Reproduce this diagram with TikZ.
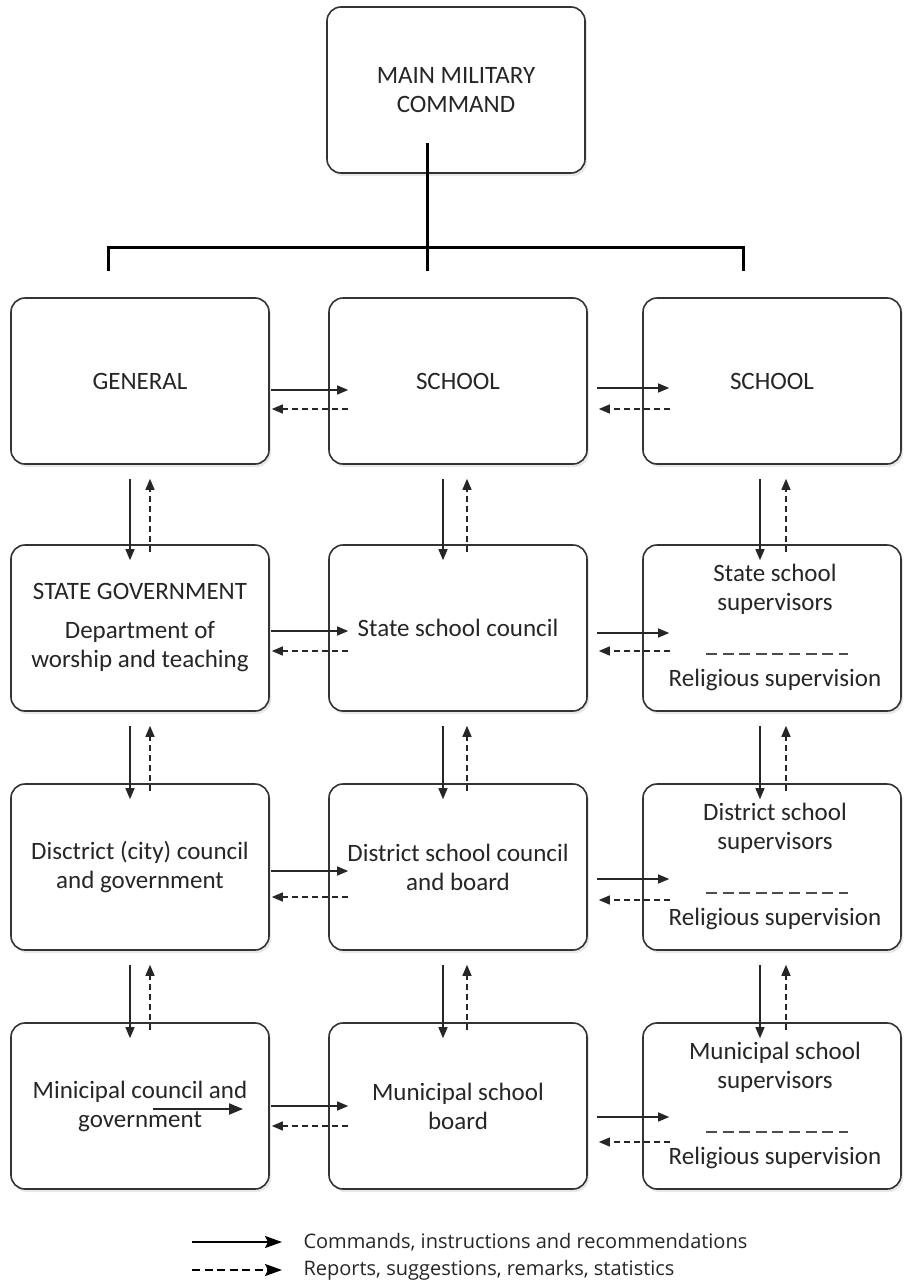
\documentclass[tikz,border=0pt]{standalone}
\usepackage{fontspec}
\setmainfont{Carlito}
\newfontfamily\legendfont{Open Sans}
\usetikzlibrary{positioning,calc,shadows,arrows.meta}
\tikzset{
  unit/.style={draw=black!80, line width=1.6pt, rounded corners=14pt, fill=white,
    minimum width=258pt, minimum height=166pt,
    drop shadow={shadow xshift=2pt, shadow yshift=-3pt, opacity=0.18},
    font=\fontsize{25}{29}\selectfont, text=black!85, align=center},
  lbl/.style={font=\fontsize{25}{29}\selectfont, text=black!85, align=center},
  cmd/.style={line width=1.3pt, black!85, -{Triangle[length=11pt,width=9pt]}},
  rep/.style={line width=1.3pt, black!85, dash pattern=on 6pt off 4pt, -{Triangle[length=11pt,width=9pt]}},
  sepline/.style={line width=1.8pt, black!70, dash pattern=on 11pt off 5.6pt},
  tree/.style={line width=3pt, line join=miter},
  legcmd/.style={line width=2.2pt, -{Stealth[length=17pt,width=12pt,inset=3pt]}},
  legrep/.style={line width=2.2pt, dash pattern=on 8pt off 4.5pt, -{Stealth[length=17pt,width=12pt,inset=3pt]}},
  legtext/.style={font=\legendfont\fontsize{20}{24}\selectfont, text=black!85, anchor=west},
}
\begin{document}
\begin{tikzpicture}[x=1pt,y=-1pt]
\useasboundingbox (0,0) rectangle (903,1282);

% top of the tree
\node[unit] (mmc) at (456,90) {MAIN MILITARY\\COMMAND};

% first row
\node[unit] (gen) at (140,381) {GENERAL};
\node[unit] (schA) at (458,381) {SCHOOL};
\node[unit] (schB) at (772,381) {SCHOOL};

% state level
\node[unit] (sgov) at (140,628) {STATE GOVERNMENT\\[10pt]Department of\\worship and teaching};
\node[unit] (ssc) at (458,628) {State school council};
\node[unit] (ssup) at (772,628) {};

% district level
\node[unit] (dcg) at (140,867) {Disctrict (city) council\\and government};
\node[unit] (dsc) at (458,867) {District school council\\and board};
\node[unit] (dsup) at (772,867) {};

% municipal level
\node[unit] (mcg) at (140,1106) {Minicipal council and\\government};
\node[unit] (msb) at (458,1106) {Municipal school\\board};
\node[unit] (msup) at (772,1106) {};

\foreach \n/\t in {ssup/State, dsup/District, msup/Municipal}{
  \node[lbl] (\n-top) at ($(\n.center)+(3,-39)$) {\t\ school\\supervisors};
  \draw[sepline] ($(\n.center)+(-66,26)$) -- ($(\n.center)+(76,26)$);
  \node[lbl] (\n-rel) at ($(\n.center)+(3,52)$) {Religious supervision};
}

% tree lines
\coordinate (fork) at (427,248);
\draw[tree] ($(mmc.center)+(-29,53)$) -- (fork);
\draw[tree] ($(gen.north)+(-32,-26)$) -- ++(0,-24) -| ($(schB.north)+(-29,-26)$);
\draw[tree] (fork) -- ($(schA.north)+(-31,-26)$);

% down and up
\foreach \u/\l/\a/\b in {gen/sgov/-10/10, sgov/dcg/-10/10, dcg/mcg/-10/10,
                         schA/ssc/-15/9, ssc/dsc/-15/9, dsc/msb/-15/9,
                         schB/ssup/-12/14, ssup/dsup/-12/14, dsup/msup/-12/14}{
  \draw[cmd] ($(\u.south)+(\a,14)$) -- ($(\l.north)+(\a,16)$);
  \draw[rep] ($(\l.north)+(\b,8)$) -- ($(\u.south)+(\b,14)$);
}

% across
\foreach \l/\r/\s/\d in {gen/schA/9/28, sgov/ssc/3/23, dcg/dsc/4/30, mcg/msb/0/20}{
  \draw[cmd] ($(\l.east)+(1,\s)$) -- ($(\r.west)+(20,\s)$);
  \draw[rep] ($(\r.west)+(20,\d)$) -- ($(\l.east)+(2,\d)$);
}
\foreach \l/\r/\s/\d in {schA/schB/7/28, ssc/ssup/5/23, dsc/dsup/12/33, msb/msup/11/36}{
  \draw[cmd] ($(\l.east)+(9,\s)$) -- ($(\r.west)+(27,\s)$);
  \draw[rep] ($(\r.west)+(28,\d)$) -- ($(\l.east)+(11,\d)$);
}

\draw[line width=2.2pt, black!85, -{Triangle[length=14pt,width=11pt]}]
  ($(mcg.center)+(13,3)$) -- ($(mcg.center)+(103,3)$);

% legend
\coordinate (cmdA) at (192,1242);
\coordinate (cmdB) at (282,1242);
\coordinate (repA) at (192,1270);
\coordinate (repB) at (282,1270);
\draw[legcmd] (cmdA) -- (cmdB);
\draw[legrep] (repA) -- (repB);
\node[legtext] (cmdtxt) at (300,1242) {Commands, instructions and recommendations};
\node[legtext] (reptxt) at (300,1270) {Reports, suggestions, remarks, statistics};
\end{tikzpicture}
\end{document}
